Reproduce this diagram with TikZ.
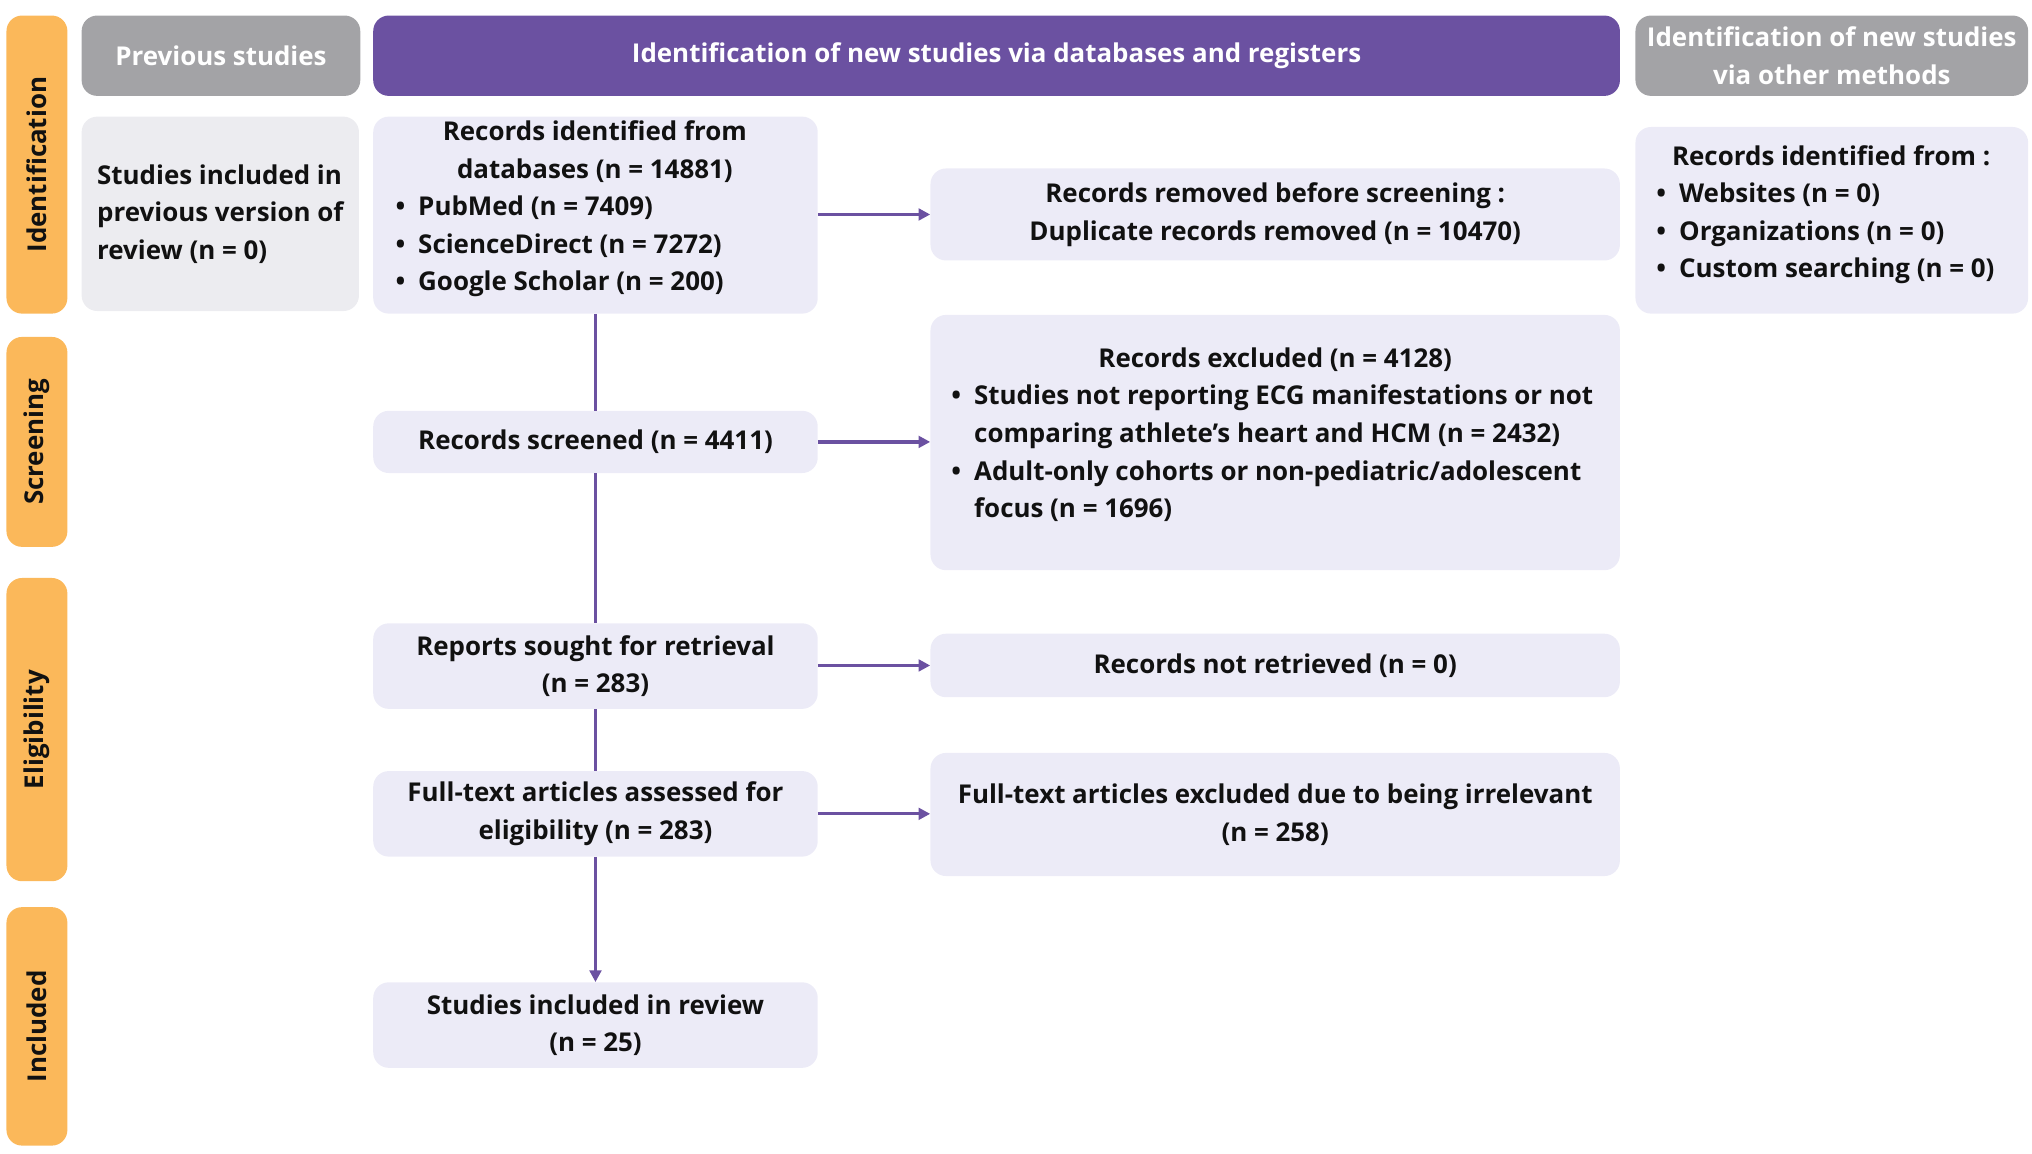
\documentclass[tikz,border=0pt]{standalone}
\usepackage{fontspec}
\setmainfont{Open Sans}
\usetikzlibrary{arrows.meta}
\definecolor{org}{HTML}{FBB85A}
\definecolor{pur}{HTML}{6B51A1}
\definecolor{gry}{HTML}{A3A3A6}
\definecolor{lav}{HTML}{ECEBF7}
\definecolor{lgr}{HTML}{ECECF0}
\definecolor{txt}{HTML}{111111}
\tikzset{
 box/.style={fill=lav,rounded corners=12pt,inner sep=0pt,text=txt,font=\fontsize{20}{29}\selectfont\bfseries,align=center},
 side/.style={fill=org,rounded corners=12pt,inner sep=0pt,text=txt,font=\fontsize{20}{24}\selectfont\bfseries},
 head/.style={rounded corners=12pt,inner sep=0pt,text=white,font=\fontsize{20}{29}\selectfont\bfseries,align=center},
 ln/.style={pur,line width=2.5pt},
 ar/.style={ln,-{Triangle[length=9pt,width=9pt]}}
}
\newcommand{\bx}[6]{\node[#6,minimum width=#3-#1,minimum height=#4-#2] (#5) at ({(#1+#3)/2},{(#2+#4)/2}) {};}
\begin{document}
\begin{tikzpicture}[x=1pt,y=-1pt]
\useasboundingbox (0,0) rectangle (1568,890);
% side bars
\bx{5}{12}{52}{242}{s1}{side}
\bx{5}{260}{52}{422}{s2}{side}
\bx{5}{446}{52}{680}{s3}{side}
\bx{5}{700}{52}{884}{s4}{side}
\node[side,fill=none,rotate=90] at (s1) {Identification};
\node[side,fill=none,rotate=90] at (s2) {Screening};
\node[side,fill=none,rotate=90] at (s3) {Eligibility};
\node[side,fill=none,rotate=90] at (s4) {Included};
% headers
\bx{63}{12}{278}{74}{h1}{head,fill=gry}
\node[head] at (h1) {Previous studies};
\bx{288}{12}{1250}{74}{h2}{head,fill=pur}
\node[head] at (h2) {Identification of new studies via databases and registers};
\bx{1262}{12}{1565}{74}{h3}{head,fill=gry}
\node[head] at (h3) {Identification of new studies\\via other methods};
% boxes
\bx{63}{90}{277}{240}{prev}{box,fill=lgr}
\node[box,fill=none,align=left] at (prev) {Studies included in\\previous version of\\review (n = 0)};
\bx{288}{90}{631}{242}{ident}{box}
\node[box,fill=none,anchor=north] at (459,93) {Records identified from\\databases (n = 14881)};
\node[box,fill=none,align=left,anchor=north west] at (305,151) {\textbullet\enspace PubMed (n = 7409)\\\textbullet\enspace ScienceDirect (n = 7272)\\\textbullet\enspace Google Scholar (n = 200)};
\bx{718}{130}{1250}{201}{rem}{box}
\node[box,fill=none] at (rem) {Records removed before screening :\\Duplicate records removed (n = 10470)};
\bx{1262}{98}{1565}{242}{oth}{box}
\node[box,fill=none,anchor=north] at (1413,112) {Records identified from :};
\node[box,fill=none,align=left,anchor=north west] at (1278,141) {\textbullet\enspace Websites (n = 0)\\\textbullet\enspace Organizations (n = 0)\\\textbullet\enspace Custom searching (n = 0)};
\bx{288}{317}{631}{365}{scr}{box}
\node[box,fill=none] at (scr) {Records screened (n = 4411)};
\bx{718}{243}{1250}{440}{exc}{box}
\node[box,fill=none,anchor=north] at (984,268) {Records excluded (n = 4128)};
\node[box,fill=none,align=left,anchor=north west] at (734,297) {\textbullet\enspace Studies not reporting ECG manifestations or not\\\phantom{\textbullet\enspace}comparing athlete’s heart and HCM (n = 2432)\\\textbullet\enspace Adult-only cohorts or non-pediatric/adolescent\\\phantom{\textbullet\enspace}focus (n = 1696)};
\bx{288}{481}{631}{547}{sou}{box}
\node[box,fill=none] at (sou) {Reports sought for retrieval\\(n = 283)};
\bx{718}{489}{1250}{538}{nr}{box}
\node[box,fill=none] at (nr) {Records not retrieved (n = 0)};
\bx{288}{595}{631}{661}{ft}{box}
\node[box,fill=none] at (ft) {Full-text articles assessed for\\eligibility (n = 283)};
\bx{718}{581}{1250}{676}{fte}{box}
\node[box,fill=none] at (fte) {Full-text articles excluded due to being irrelevant\\(n = 258)};
\bx{288}{758}{631}{824}{inc}{box}
\node[box,fill=none] at (inc) {Studies included in review\\(n = 25)};
% connectors
\draw[ln] (ident.south) -- (scr.north);
\draw[ln] (scr.south) -- (sou.north);
\draw[ln] (sou.south) -- (ft.north);
\draw[ar] (ft.south) -- (inc.north);
\draw[ar] (ident.east |- rem) -- (rem.west);
\draw[ar] (scr.east) -- (exc.west |- scr);
\draw[ar] (sou.east |- nr) -- (nr.west);
\draw[ar] (ft.east) -- (fte.west |- ft);
\end{tikzpicture}
\end{document}
